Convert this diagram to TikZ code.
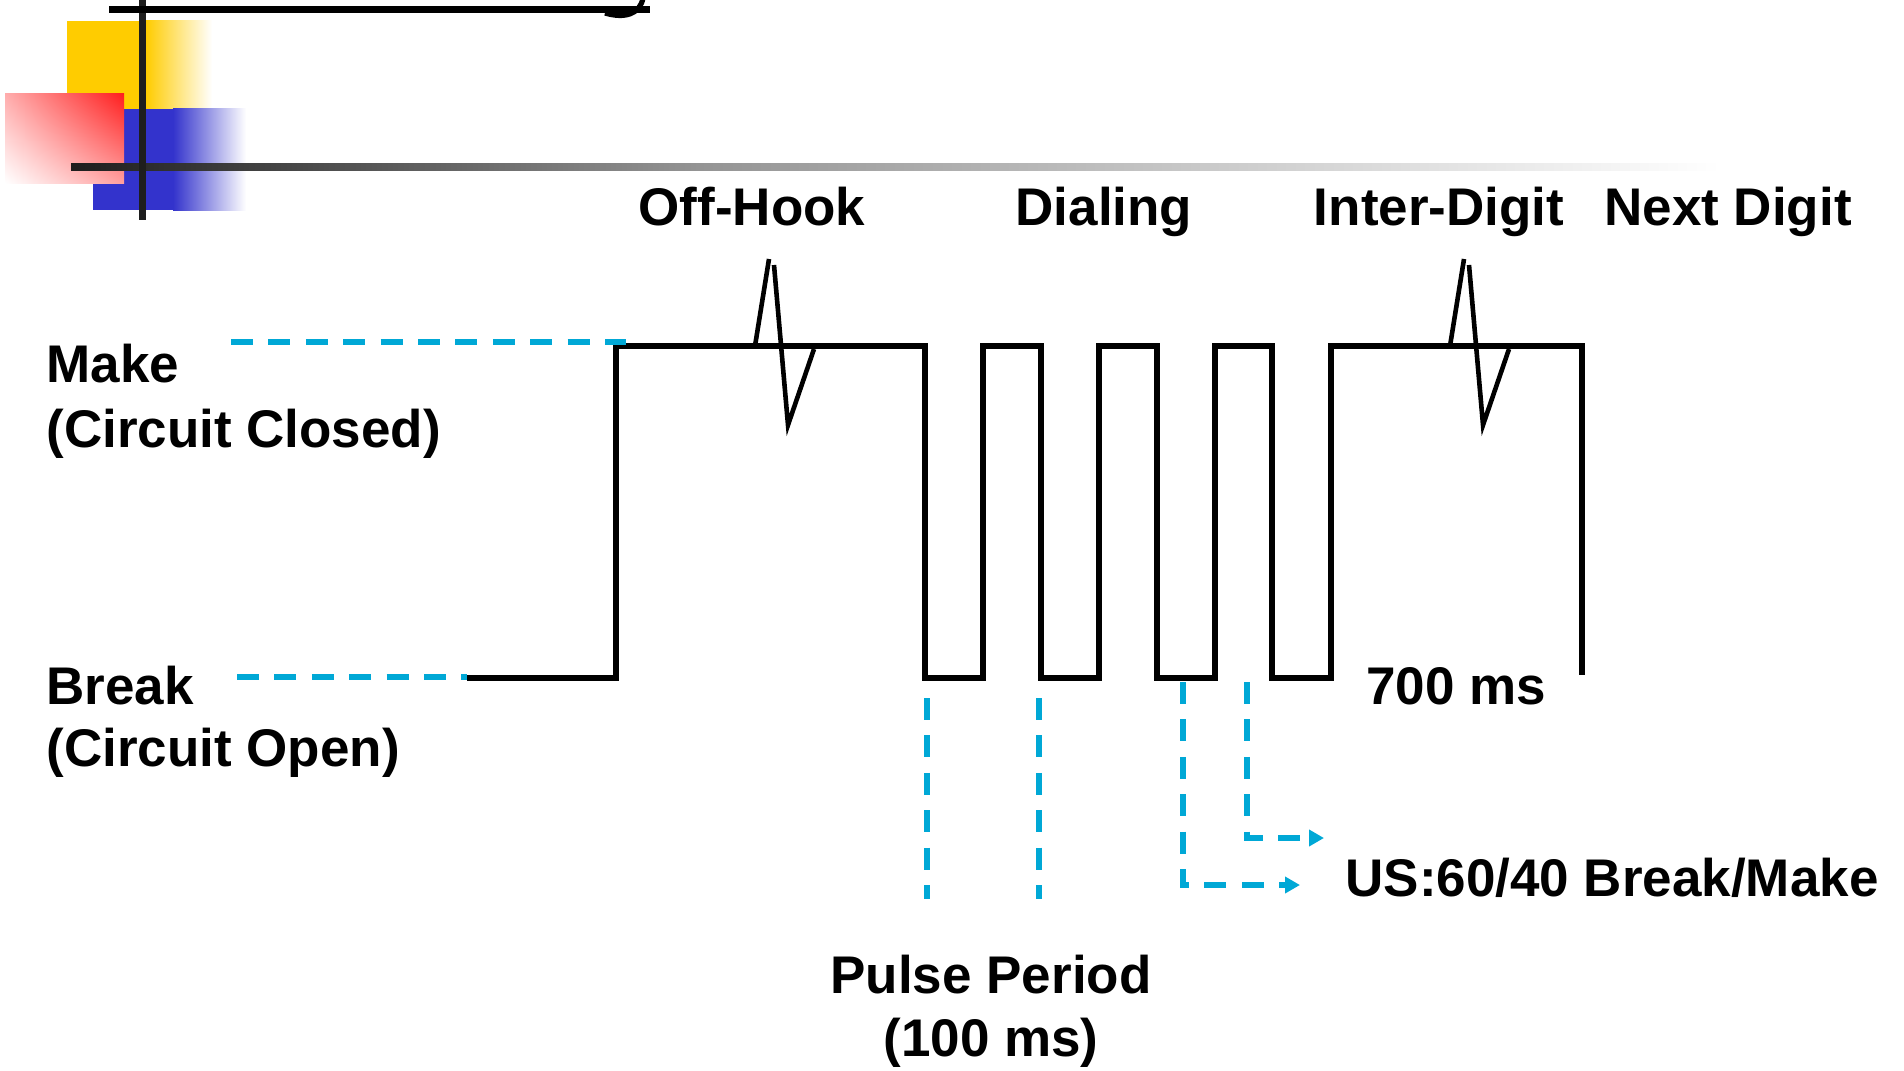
\documentclass[tikz,border=0pt]{standalone}
\usepackage{fontspec}
\setmainfont{Liberation Sans}
\usetikzlibrary{arrows.meta,shadings}
\definecolor{dashblue}{RGB}{0,168,214}
\definecolor{sqyellow}{RGB}{255,204,0}
\definecolor{sqblue}{RGB}{51,51,204}
\definecolor{sqred}{RGB}{255,30,30}
\definecolor{barblack}{RGB}{30,30,30}
\pgfdeclarehorizontalshading{fadeline}{100bp}{color(0bp)=(barblack); color(25bp)=(barblack); color(44bp)=(black!42); color(75bp)=(white); color(100bp)=(white)}
\begin{document}
\begin{tikzpicture}[x=0.5pt,y=-0.5pt,
  wave/.style={line width=2.8pt, line cap=butt, line join=miter},
  spikeline/.style={line width=2.3pt, line join=miter},
  guide/.style={draw=dashblue, line width=2.75pt, dash pattern=on 11pt off 7.7pt},
  guidearrow/.style={guide, -{Triangle[length=7.5pt,width=8pt]}},
  lbl/.style={font=\fontsize{26.5}{32}\selectfont\bfseries, inner sep=0pt, anchor=base west},
  lblc/.style={lbl, anchor=base}]
\useasboundingbox (0,0) rectangle (1904,1070);
% --- decoration top-left ---
\fill[sqyellow] (67,21) rectangle (147,109);
\shade[left color=sqyellow, right color=white] (146,21) rectangle (212,109);
\fill[sqblue] (93,109) rectangle (174,210);
\shade[left color=sqblue, right color=white] (173,109) rectangle (246,210);
\shade[upper right=sqred, upper left=red!32!white, lower right=red!38!white, lower left=white] (5,94) rectangle (124,183);
\shade[shading=fadeline] (71,163.5) rectangle (1720,170.5);
\draw[barblack, line width=3.5pt] (142,0) -- (142,220);
\draw[black, line width=3.5pt] (109,10) -- (650,10);
\draw[black, line width=2.6pt] (643,-2) .. controls (640,14) and (625,19) .. (605,13);
% --- waveform ---
\coordinate (bstart) at (467,678);
\coordinate (wend) at (1582,675);
\draw[wave] (bstart) -- (616,678) -- (616,346) -- (925,346) -- (925,678) -- (983,678)
  -- (983,346) -- (1041,346) -- (1041,678) -- (1099,678) -- (1099,346) -- (1157,346)
  -- (1157,678) -- (1215,678) -- (1215,346) -- (1272,346) -- (1272,678) -- (1331,678)
  -- (1331,346) -- (1582,346) -- (wend);
% spikes
\draw[spikeline] (755,346) -- (769,259);
\draw[spikeline] (774,265) -- (788,425) -- (814,349);
\draw[spikeline] (1450,346) -- (1464,259);
\draw[spikeline] (1469,265) -- (1483,425) -- (1509,349);
% --- blue guides ---
\coordinate (mk1) at (231,342); \coordinate (mk2) at (626,342);
\coordinate (bk1) at (237,677); \coordinate (bk2) at (467,677);
\draw[guide] (mk1) -- (mk2);
\draw[guide] (bk1) -- (bk2);
\coordinate (p1a) at (927,698); \coordinate (p1b) at (927,899);
\coordinate (p2a) at (1039,698); \coordinate (p2b) at (1039,899);
\draw[guide] (p1a) -- (p1b);
\draw[guide] (p2a) -- (p2b);
\coordinate (u1a) at (1183,682); \coordinate (u1b) at (1183,885); \coordinate (u1c) at (1300,885);
\coordinate (u2a) at (1247,682); \coordinate (u2b) at (1247,838); \coordinate (u2c) at (1324,838);
\draw[guidearrow] (u1a) -- (u1b) -- (u1c);
\draw[guidearrow] (u2a) -- (u2b) -- (u2c);
% --- labels ---
\node[lbl] (make) at (46,382) {Make};
\node[lbl] (closed) at (46,447) {(Circuit Closed)};
\node[lbl] (brk) at (46,704) {Break};
\node[lbl] (open) at (46,766) {(Circuit Open)};
\node[lblc] (offhook) at (752,225) {Off-Hook};
\node[lblc] (dialing) at (1104,225) {Dialing};
\node[lblc] (interdigit) at (1439,225) {Inter-Digit};
\node[lblc] (nextdigit) at (1728,225) {Next Digit};
\node[lbl] (ms700) at (1366,704) {700 ms};
\node[lbl] (ratio) at (1345,896) {US:60/40 Break/Make};
\node[lblc] (pulse) at (991,993) {Pulse Period};
\node[lblc] (ms100) at (991,1056) {(100 ms)};
\end{tikzpicture}
\end{document}
